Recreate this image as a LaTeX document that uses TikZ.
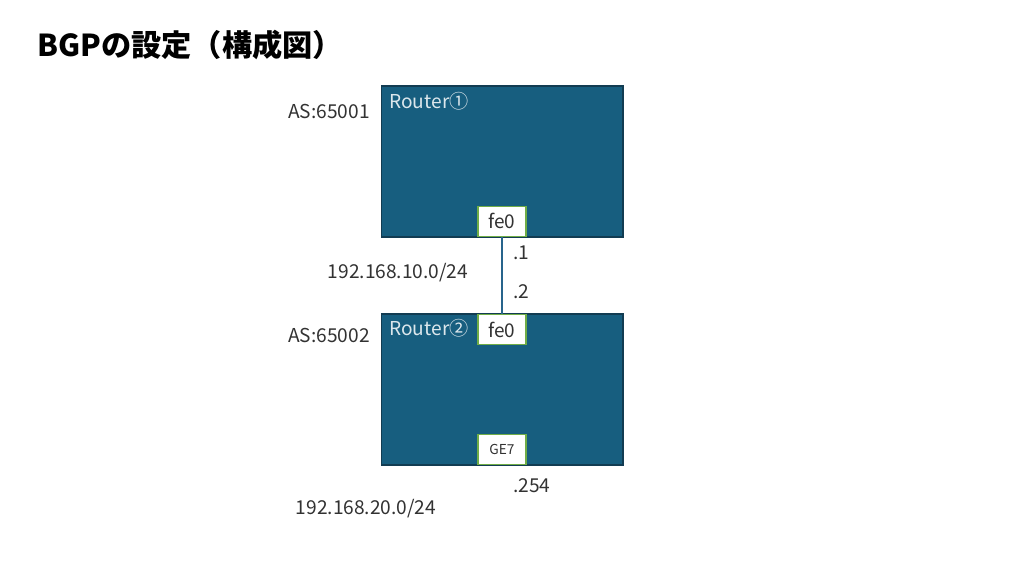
\documentclass[tikz,border=0pt]{standalone}
\usepackage{fontspec}
\setmainfont{Noto Sans CJK JP}
\usetikzlibrary{positioning}
\definecolor{routerblue}{RGB}{23,94,127}
\definecolor{routeredge}{RGB}{18,60,82}
\definecolor{portgreen}{RGB}{112,173,71}
\definecolor{linkblue}{RGB}{40,100,140}
\definecolor{textgray}{RGB}{50,50,50}
\tikzset{
  router/.style={draw=routeredge, fill=routerblue, rectangle, minimum width=4.84cm, minimum height=3.02cm, inner sep=0pt, line width=0.6pt},
  port/.style={draw=portgreen, fill=white, rectangle, minimum width=0.96cm, minimum height=0.6cm, inner sep=0pt, line width=0.8pt, font=\fontsize{10.8}{12}\selectfont, text=textgray},
  lbl/.style={font=\fontsize{10.9}{12}\selectfont, text=textgray, inner sep=0pt}
}
\begin{document}
\begin{tikzpicture}[x=0.02cm, y=-0.02cm]
\useasboundingbox (0,0) rectangle (1024,576);

\node[anchor=west, inner sep=0pt, font=\fontsize{17.2}{19}\selectfont\bfseries] (title) at (37,45) {BGPの設定（構成図）};

\node[router] (r1) at (502,161.5) {};
\node[router] (r2) at (502,389.5) {};

\node[port, anchor=south] (p1) at (502,237) {fe0};
\node[port, anchor=north] (p2) at (502,314) {fe0};
\node[port, anchor=south, font=\fontsize{7.8}{9}\selectfont] (p3) at (502,465) {GE7};

\node[lbl, anchor=west, text={white!85!routerblue}] (n1) at (389,101) {Router①};
\node[lbl, anchor=west, text={white!85!routerblue}] (n2) at (389,328) {Router②};

\node[lbl, anchor=east] (as1) at (370,111) {AS:65001};
\node[lbl, anchor=east] (as2) at (370,335) {AS:65002};

\draw[linkblue, line width=0.8pt] (p1) -- (p2);

\node[lbl, anchor=west] (a1) at (513,253) {.1};
\node[lbl, anchor=west] (a2) at (513,292) {.2};
\node[lbl] (net1) at (398,273) {192.168.10.0/24};
\node[lbl, anchor=west] (a3) at (513,486) {.254};
\node[lbl] (net2) at (366,509) {192.168.20.0/24};

\end{tikzpicture}
\end{document}
